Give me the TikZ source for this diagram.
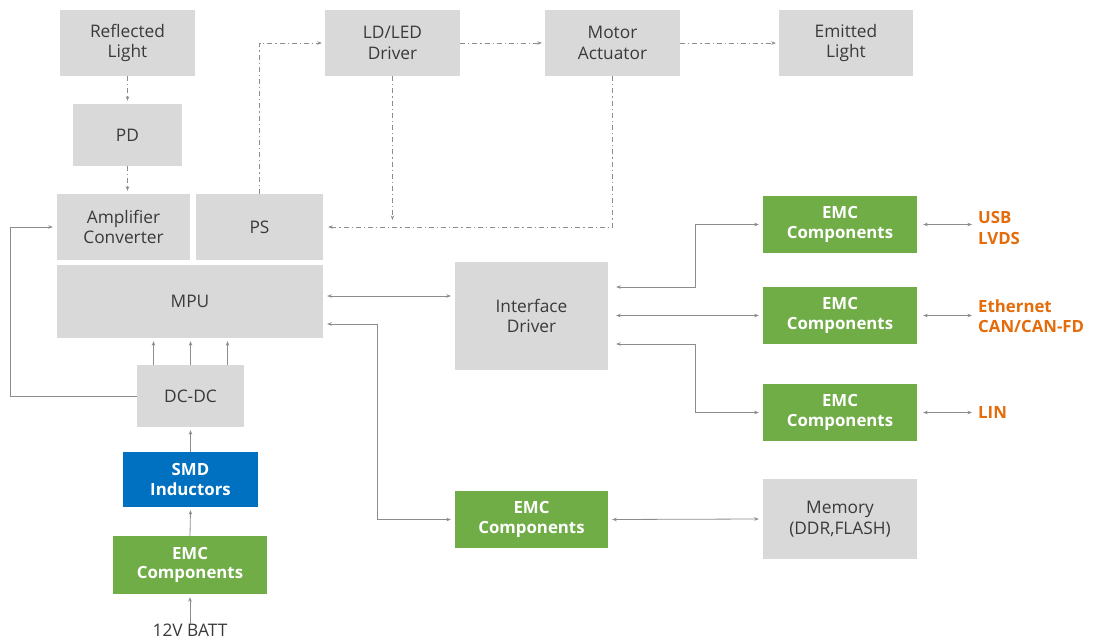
\documentclass[tikz,border=0pt]{standalone}
\usepackage{fontspec}
\setmainfont{Open Sans}
\usepackage{tikz}
\usetikzlibrary{arrows.meta}
\usetikzlibrary{positioning}
\usetikzlibrary{calc}
\definecolor{blkgray}{HTML}{D9D9D9}
\definecolor{blkgreen}{HTML}{70AD47}
\definecolor{blkblue}{HTML}{0070C0}
\definecolor{busorange}{HTML}{E46C0A}
\definecolor{wire}{HTML}{8C8C8C}
\definecolor{txtgray}{HTML}{3A3A3A}
\newcommand{\emcText}{\textbf{EMC}\\\textbf{Components}}

\begin{document}
\begin{tikzpicture}[
  x=1pt,y=-1pt,
  gblk/.style 2 args={
    rectangle,
    fill=blkgray,
    text=txtgray,
    align=center,
    inner sep=0pt,
    minimum width=#1,
    minimum height=#2,
    font=\fontsize{17.3}{20.5}\selectfont},
  cblk/.style n args={3}{
    rectangle,
    fill=#1,
    text=white,
    align=center,
    inner sep=0pt,
    minimum width=#2,
    minimum height=#3,
    font=\fontsize{16.8}{19.5}\selectfont},
  bus/.style={
    text=busorange,
    align=left,
    anchor=west,
    inner sep=0pt,
    font=\fontsize{16.8}{20.5}\selectfont\bfseries},
  dep/.style ={
    -{Stealth[length=4.5pt,width=3.5pt]},draw=wire,line width=0.8pt
  },
  bidep/.style ={
    {Stealth[length=4.5pt,width=3.5pt]}-{Stealth[length=4.5pt,width=3.5pt]},
    draw=wire,line width=0.8pt
  },
  ddep/.style ={
    dep,dash pattern=on 5pt off 3pt on 1.2pt off 3pt
  },
]

  \useasboundingbox (0,0) rectangle (1096,642);

  % Optical chain
  \node[gblk={135}{66}] (refl) at (127.5,43) {Reflected\\Light};
  \node[gblk={109}{62}] (pd) at (127.5,135) {PD};
  \node[gblk={133}{66}] (amp) at (123.5,227) {Amplifier\\Converter};
  \node[gblk={127}{66}] (ps) at (259.5,227) {PS};
  \node[gblk={135}{66}] (ld) at (392.5,43) {LD/LED\\Driver};
  \node[gblk={135}{66}] (mot) at (612.5,43) {Motor\\Actuator};
  \node[gblk={134}{66}] (emit) at (846,43) {Emitted\\Light};

  % Processor and power
  \node[gblk={266}{73}] (mpu) at (190,301.5) {MPU};
  \node[gblk={107}{62}] (dcdc) at (190.5,396) {DC-DC};
  \node[cblk={blkblue}{135}{55}] (smd) at (190.5,479.5)
      {\textbf{SMD}\\\textbf{Inductors}};
  \node[cblk={blkgreen}{154}{58}] (emcp) at (190,565) {\emcText};
  \node[text=txtgray,inner sep=0pt,font=\fontsize{17.3}{20}\selectfont]
      (batt) at (190,630) {12V BATT};

  % Interfaces
  \node[gblk={153}{108}] (ifd) at (531.5,316) {Interface\\Driver};
  \node[cblk={blkgreen}{154}{57}] (emca) at (840,224.5) {\emcText};
  \node[cblk={blkgreen}{154}{57}] (emcb) at (840,315.5) {\emcText};
  \node[cblk={blkgreen}{154}{57}] (emcc) at (840,412.5) {\emcText};
  \node[cblk={blkgreen}{153}{57}] (emcm) at (531.5,519.5) {\emcText};
  \node[gblk={154}{80}] (mem) at (840,519) {Memory\\(DDR,FLASH)};
  \node[bus] (usb) at (978,228) {USB\\LVDS};
  \node[bus] (eth) at (978,316) {Ethernet\\CAN/CAN-FD};
  \node[bus] (lin) at (978,413) {LIN};

  \coordinate (ldend) at (392.5,220);
  \coordinate (fbk) at (10,396);
  \coordinate (memkink) at (377,519.5);
  \coordinate (ifkink) at (695,0);

  % Dash-dotted optical paths
  \draw[ddep] (refl.south) -- ($(pd.north)+(0,-3)$);
  \draw[ddep] (pd.south) -- ($(pd.south |- amp.north)+(0,-3)$);
  \draw[ddep] (ps.north) |- ($(ld.west)+(-3,0)$);
  \draw[ddep] (ld.east) -- ($(mot.west)+(-3,0)$);
  \draw[ddep] (mot.east) -- ($(emit.west)+(-3,0)$);
  \draw[ddep] (ld.south) -- (ldend);
  \draw[ddep] (mot.south) |- ($(ps.east)+(5,0)$);

  % Power path
  \draw[dep] (batt.north) -- ($(emcp.south)+(0,3)$);
  \draw[dep] (emcp.north) -- ($(smd.south)+(0,3)$);
  \draw[dep] (smd.north) -- ($(dcdc.south)+(0,3)$);
  \foreach \dx in {-37,0,37} {
    \draw[dep] ($(dcdc.north)+(\dx,0)$) -- ($(dcdc.north |- mpu.south)+(\dx,3)$);
  }
  \draw[dep] (dcdc.west) -- (fbk) |- ($(amp.west)+(-4,0)$);

  % Data paths
  \draw[bidep] ($(mpu.east)+(4,-5.5)$) -- ($(mpu.east -| ifd.west)+(-4,-5.5)$);
  \draw[bidep] ($(mpu.east)+(4,22.5)$) -| (memkink) -- ($(emcm.west)+(-4,0)$);
  \draw[bidep] ($(emcm.east)+(4,0)$) -- ($(mem.west)+(-4,0)$);
  \draw[bidep] ($(ifd.east)+(8,-29)$) -| (ifkink |- emca.west)
      -- ($(emca.west)+(-4,0)$);
  \draw[bidep] ($(ifd.east)+(8,-0.5)$) -- ($(emcb.west)+(-4,0)$);
  \draw[bidep] ($(ifd.east)+(8,28)$) -| (ifkink |- emcc.west)
      -- ($(emcc.west)+(-4,0)$);
  \draw[bidep] ($(emca.east)+(6,0)$) -- ($(usb.west |- emca.east)+(-6,0)$);
  \draw[bidep] ($(emcb.east)+(6,0)$) -- ($(eth.west |- emcb.east)+(-6,0)$);
  \draw[bidep] ($(emcc.east)+(6,0)$) -- ($(lin.west |- emcc.east)+(-6,0)$);

\end{tikzpicture}
\end{document}
